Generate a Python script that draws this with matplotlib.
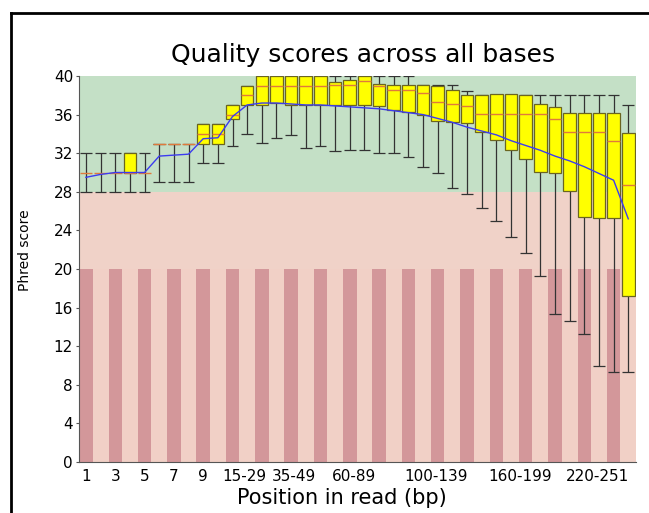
import matplotlib
matplotlib.use("Agg")
import matplotlib.pyplot as plt
from matplotlib.lines import Line2D
import numpy as np

# Per base-group summaries (38 groups, phred scores)
whisker_low = [28, 28, 28, 28, 28, 29, 29, 29, 31, 31, 32.7, 34,
               33.1, 33.6, 33.9, 32.5, 32.7,
               32.2, 32.3, 32.3, 32.0, 32.0, 31.6, 30.6, 29.9, 28.4, 27.8,
               26.3, 25.0, 23.3, 21.7, 19.3, 15.3, 14.6, 13.3, 10.0, 9.3, 9.3]
lower_quart = [30, 30, 30, 30, 30, 33, 33, 33, 33, 33, 35.5, 37,
               37, 37.2, 37, 37, 37,
               37, 37, 37, 36.9, 36.5, 36.3, 36.0, 35.3, 35.2, 35.1,
               34.2, 33.4, 32.3, 31.4, 30.1, 30.0, 28.1, 25.4, 25.3, 25.3, 17.2]
median = [30, 30, 30, 30, 30, 33, 33, 33, 34, 34, 36, 38,
          39, 39, 39, 39, 39,
          39.1, 39.1, 39.5, 39.0, 38.6, 38.5, 38.2, 37.3, 37.1, 36.9,
          36.1, 36.1, 36.1, 36.1, 36.1, 35.5, 34.2, 34.2, 34.2, 33.3, 28.7]
upper_quart = [30, 30, 30, 32, 30, 33, 33, 33, 35, 35, 37, 39,
               40, 40, 40, 40, 40,
               39.4, 39.6, 40, 39.2, 39.1, 39.1, 39.1, 39.0, 38.5, 38.0,
               38.0, 38.1, 38.1, 38.0, 37.1, 36.8, 36.2, 36.2, 36.2, 36.2, 34.1]
whisker_high = [32, 32, 32, 32, 32, 33, 33, 33, 35, 35, 37, 39,
                40, 40, 40, 40, 40,
                40, 40, 40, 40, 40, 40, 39.1, 39.1, 39.1, 38.4,
                38, 38, 38, 38, 38, 38, 38, 38, 38, 38, 37]
means = [29.5, 29.8, 30.0, 30.0, 30.0, 31.7, 31.8, 31.9, 33.5, 33.6, 35.8, 37.0,
         37.2, 37.2, 37.1, 37.0, 37.0,
         36.9, 36.8, 36.7, 36.6, 36.4, 36.2, 36.0, 35.6, 35.2, 34.7,
         34.3, 33.9, 33.3, 32.8, 32.3, 31.7, 31.2, 30.6, 29.9, 29.2, 25.2]

tick_labels = ["1", "3", "5", "7", "9", "15-29", "35-49", "60-89",
               "100-139", "160-199", "220-251"]
tick_pos = [0, 2, 4, 6, 8, 10.8, 14.2, 18.3, 23.9, 29.6, 34.9]

W, H = 649, 513
fig = plt.figure(figsize=(W / 100, H / 100), dpi=100)
ax = fig.add_axes([78.6 / W, 1 - 462 / H, 557 / W, 386 / H])

n = len(means)
x = np.arange(n)
lo = np.array(lower_quart)
hi = np.array(upper_quart)

# quality zones
ax.axhspan(28, 40, color="#c4e0c6", lw=0, zorder=0)
ax.axhspan(20, 28, color="#f0d2c8", lw=0, zorder=0)
ax.axhspan(0, 20, color="#f1d0c6", lw=0, zorder=0)
for i in range(0, n, 2):
    ax.fill_between([i - 0.46, i + 0.46], 0, 20, color="#d3979a", lw=0, zorder=0.5)

# whiskers and caps
ax.vlines(x, whisker_low, whisker_high, color="#333333", lw=0.9, zorder=2)
ax.hlines(whisker_low, x - 0.4, x + 0.4, color="#333333", lw=0.9, zorder=2)
ax.hlines(whisker_high, x - 0.4, x + 0.4, color="#333333", lw=0.9, zorder=2)

# boxes (skip collapsed ones)
has_box = hi - lo > 0
ax.bar(x[has_box], (hi - lo)[has_box], bottom=lo[has_box], width=0.86,
       color="#ffff00", edgecolor="#6b6520", lw=0.9, zorder=3)

# medians and mean line
ax.hlines(median, x - 0.43, x + 0.43, color="#e07a3c", lw=1.0, zorder=4)
ax.plot(x, means, color="#3c3cf0", lw=1.0, zorder=5)

ax.set_xlim(-0.5, n - 0.5)
ax.set_ylim(0, 40)
ax.set_yticks(range(0, 41, 4))
ax.set_xticks(tick_pos)
ax.set_xticklabels(tick_labels)
ax.tick_params(axis="y", labelsize=11, length=2, pad=2, color="#555555")
ax.tick_params(axis="x", labelsize=11, length=0, pad=5)
for s in ["top", "right"]:
    ax.spines[s].set_visible(False)
ax.spines["left"].set_color("#555555")
ax.spines["bottom"].set_color("#555555")

fig.text(363 / W, 1 - 55 / H, "Quality scores across all bases",
         fontsize=18, ha="center", va="center")
fig.text(342 / W, 1 - 498 / H, "Position in read (bp)",
         fontsize=15, ha="center", va="center")
fig.text(25 / W, 1 - 250 / H, "Phred score", fontsize=10,
         rotation=90, ha="center", va="center")

# outer frame (left and top only)
fig.add_artist(Line2D([10.5 / W, 10.5 / W], [0, 1 - 13 / H],
                      transform=fig.transFigure, color="black", lw=2))
fig.add_artist(Line2D([10.5 / W, 1], [1 - 13 / H, 1 - 13 / H],
                      transform=fig.transFigure, color="black", lw=2))

fig.savefig("out.png", dpi=100)
